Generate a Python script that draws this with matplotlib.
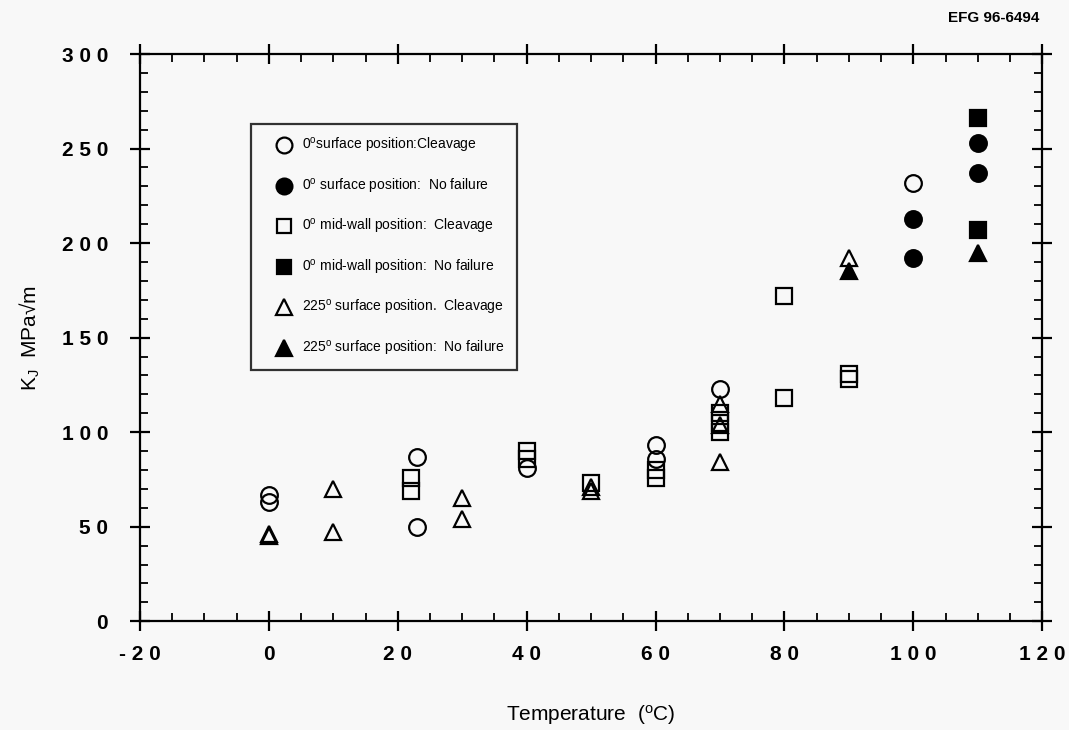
import matplotlib
matplotlib.use("Agg")
import matplotlib.pyplot as plt
from matplotlib.ticker import MultipleLocator

BG = "#f8f8f8"
plt.rcParams.update({
    "font.family": ["Liberation Sans", "DejaVu Sans"],
    "mathtext.fontset": "custom",
    "mathtext.rm": "Liberation Sans",
    "mathtext.it": "Liberation Sans",
    "figure.facecolor": BG, "axes.facecolor": BG,
})

# 0 deg surface position: cleavage (open circles)
surf_clv_x = [0, 0, 23, 23, 40, 60, 60, 70, 100]
surf_clv_y = [67, 63, 87, 50, 81, 93, 86, 123, 232]
# 0 deg surface position: no failure (filled circles)
surf_nf_x = [100, 100, 110, 110]
surf_nf_y = [213, 192, 253, 237]
# 0 deg mid-wall: cleavage (open squares)
mid_clv_x = [22, 22, 40, 40, 50, 60, 60, 70, 70, 70, 80, 80, 90, 90]
mid_clv_y = [76, 69, 90, 86, 73, 80, 76, 110, 105, 100, 172, 118, 131, 128]
# 0 deg mid-wall: no failure (filled squares)
mid_nf_x = [110, 110]
mid_nf_y = [266, 207]
# 225 deg surface: cleavage (open triangles)
s225_clv_x = [0, 0, 10, 10, 30, 30, 50, 50, 70, 70, 70, 90]
s225_clv_y = [46, 45, 70, 47, 65, 54, 71, 69, 115, 104, 84, 192]
# 225 deg surface: no failure (filled triangles)
s225_nf_x = [90, 110]
s225_nf_y = [185, 195]

x_ticks = [-20, 0, 20, 40, 60, 80, 100, 120]
y_ticks = [0, 50, 100, 150, 200, 250, 300]

labels = [
    r"0$^{\mathrm{o}}$surface position:Cleavage",
    r"0$^{\mathrm{o}}$ surface position:  No failure",
    r"0$^{\mathrm{o}}$ mid-wall position:  Cleavage",
    r"0$^{\mathrm{o}}$ mid-wall position:  No failure",
    r"225$^{\mathrm{o}}$ surface position.  Cleavage",
    r"225$^{\mathrm{o}}$ surface position:  No failure",
]


def spaced(v):
    return " ".join(str(v))


fig = plt.figure(figsize=(10.69, 7.3), dpi=100)
ax = fig.add_axes([0.131, 0.149, 0.844, 0.777])

mew = 1.6
kw_open = dict(ls="none", mfc="none", mec="black", mew=mew, ms=12)
kw_fill = dict(ls="none", mfc="black", mec="black", mew=mew, ms=12)
ax.plot(surf_clv_x, surf_clv_y, "o", label=labels[0], **kw_open)
ax.plot(surf_nf_x, surf_nf_y, "o", label=labels[1], **kw_fill)
ax.plot(mid_clv_x, mid_clv_y, "s", label=labels[2], **{**kw_open, "ms": 11})
ax.plot(mid_nf_x, mid_nf_y, "s", label=labels[3], **{**kw_fill, "ms": 11})
ax.plot(s225_clv_x, s225_clv_y, "^", label=labels[4], **kw_open)
ax.plot(s225_nf_x, s225_nf_y, "^", label=labels[5], **kw_fill)

ax.set_xlim(-20, 120)
ax.set_ylim(0, 300)
ax.set_xticks(x_ticks)
ax.set_xticklabels([spaced(v) for v in x_ticks], fontweight="bold")
ax.set_yticks(y_ticks)
ax.set_yticklabels([spaced(v) for v in y_ticks], fontweight="bold")
ax.xaxis.set_minor_locator(MultipleLocator(5))
ax.yaxis.set_minor_locator(MultipleLocator(10))
ax.tick_params(which="major", direction="inout", length=14, width=1.6,
               top=True, right=True, labelsize=15)
ax.tick_params(axis="x", which="major", pad=10)
ax.tick_params(axis="y", which="major", pad=16)
ax.tick_params(which="minor", direction="in", length=6, width=1.3,
               top=True, right=True)
for s in ax.spines.values():
    s.set_linewidth(1.6)

ax.set_xlabel(r"Temperature  ($^{\mathrm{o}}$C)", fontsize=15, labelpad=28)
ax.set_ylabel("K$_{\\mathrm{J}}$  MPa\u221am", fontsize=15, labelpad=14)

leg = ax.legend(loc="upper left", bbox_to_anchor=(0.123, 0.877), fontsize=10,
                frameon=True, fancybox=False, edgecolor="black",
                labelspacing=1.55, handletextpad=-0.2, borderpad=0.9,
                borderaxespad=0, markerscale=0.95, handlelength=3.0)
leg.get_frame().set_linewidth(1.6)
leg.get_frame().set_facecolor(BG)

fig.text(0.972, 0.975, "EFG 96-6494", ha="right", va="center",
         fontsize=11, fontweight="bold")

fig.savefig("out.png", dpi=100, facecolor=BG)
